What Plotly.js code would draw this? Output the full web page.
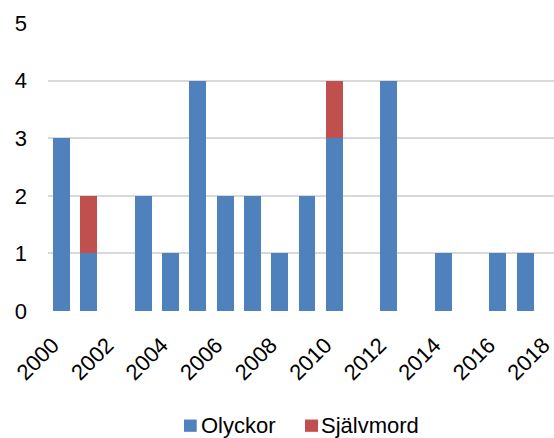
<!DOCTYPE html>
<html>
<head>
<meta charset="utf-8">
<script src="https://cdn.plot.ly/plotly-3.0.1.min.js"></script>
<style>html,body{margin:0;padding:0;background:#fff;}#chart{width:554px;height:438px;}</style>
</head>
<body>
<div id="chart"></div>
<script>
const years = [2000,2001,2002,2003,2004,2005,2006,2007,2008,2009,2010,2011,2012,2013,2014,2015,2016,2017,2018];
const olyckor = [3,1,0,2,1,4,2,2,1,2,3,0,4,0,1,0,1,1,0];
const sjalvmord = [0,1,0,0,0,0,0,0,0,0,1,0,0,0,0,0,0,0,0];
const tickYears = [2000,2002,2004,2006,2008,2010,2012,2014,2016,2018];
const yTicks = [0,1,2,3,4,5];
const seriesNames = ['Olyckor', 'Självmord'];
const seriesColors = ['#4F81BD', '#C0504D'];

const font = {family: 'Liberation Sans, Arial, sans-serif', size: 22, color: '#000'};
const traces = [
  {type:'bar', name:seriesNames[0], x:years, y:olyckor, width:0.62, marker:{color:seriesColors[0]}},
  {type:'bar', name:seriesNames[1], x:years, y:sjalvmord, width:0.62, marker:{color:seriesColors[1]}}
];

// manual legend (Excel-style, small square + label)
const legSquares = [[0.2688, 0.2939], [0.5079, 0.5336]];
const legTextX = [0.3004, 0.5385];
const shapes = seriesNames.map((n, i) => ({
  type:'rect', xref:'paper', yref:'paper', x0:legSquares[i][0], x1:legSquares[i][1], y0:-0.4195, y1:-0.3769,
  fillcolor:seriesColors[i], line:{width:0}
}));
const annotations = seriesNames.map((n, i) => ({
  xref:'paper', yref:'paper', x:legTextX[i], y:-0.396, xanchor:'left', yanchor:'middle',
  text:n, showarrow:false, font:font, borderpad:0
}));

const layout = {
  width:554, height:438, barmode:'stack',
  margin:{l:48, r:0, t:23, b:126.5},
  paper_bgcolor:'#fff', plot_bgcolor:'#fff',
  font: font,
  showlegend:false,
  shapes: shapes,
  annotations: annotations,
  xaxis:{range:[1999.5, 2018.06], tickmode:'array', tickvals:tickYears, ticktext:tickYears.map(String),
         tickangle:-45, showgrid:false, zeroline:false, showline:false, ticks:'', tickfont:font,
         ticklabeloverflow:'allow', ticklabelstandoff:16, ticklabelshift:-9, fixedrange:true},
  yaxis:{range:[0,5], tickmode:'array', tickvals:yTicks, showgrid:true, gridcolor:'#D9D9D9', gridwidth:2,
         zeroline:false, showline:false, ticks:'', tickfont:font, ticklabelstandoff:20},
};
Plotly.newPlot('chart', traces, layout, {staticPlot:true, displayModeBar:false});
</script>
</body>
</html>
